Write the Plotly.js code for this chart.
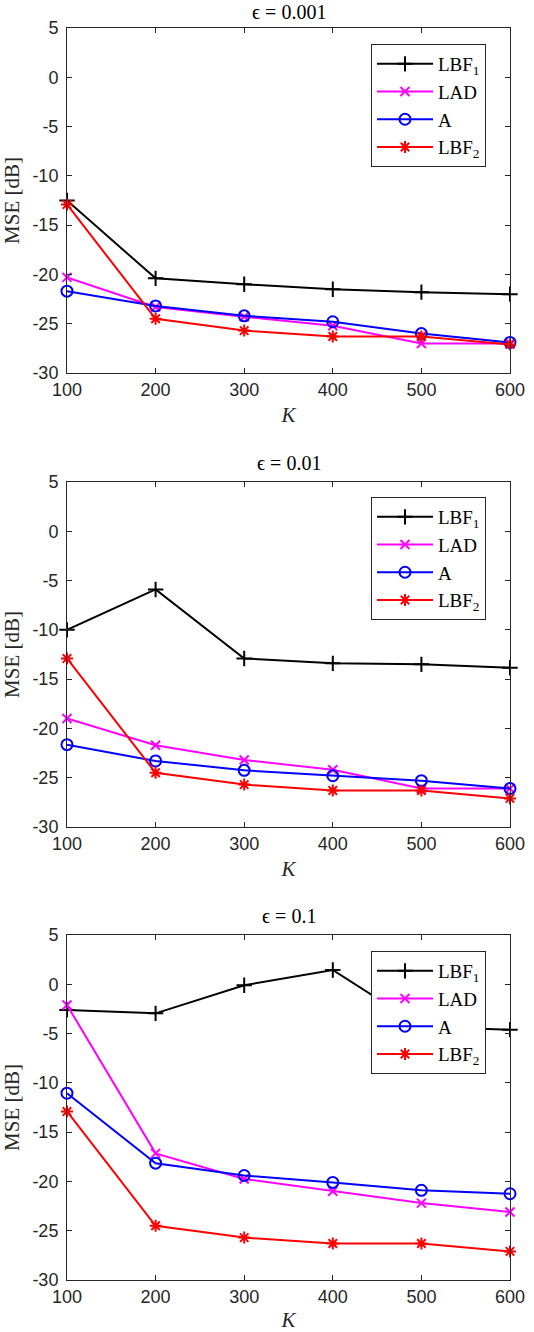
<!DOCTYPE html>
<html>
<head>
<meta charset="utf-8">
<script src="https://cdn.plot.ly/plotly-3.0.1.min.js"></script>
<style>html,body{margin:0;padding:0;background:#fff;}#chart{width:534px;height:1332px;}</style>
</head>
<body>
<div id="chart"></div>
<script>
// ---- data ----
var K = [100, 200, 300, 400, 500, 600];
var seriesNames = ['LBF<sub>1</sub>', 'LAD', 'A', 'LBF<sub>2</sub>'];
var panelTitles = ['\u03f5 = 0.001', '\u03f5 = 0.01', '\u03f5 = 0.1'];
var yTicks = [-30, -25, -20, -15, -10, -5, 0, 5];

var e1_LBF1 = [-12.5, -20.4, -21.0, -21.5, -21.8, -22.0];
var e1_LAD  = [-20.3, -23.3, -24.3, -25.2, -27.0, -27.0];
var e1_A    = [-21.7, -23.2, -24.2, -24.8, -26.0, -26.9];
var e1_LBF2 = [-12.9, -24.5, -25.7, -26.3, -26.3, -27.1];

var e2_LBF1 = [-10.0, -5.9, -12.9, -13.4, -13.5, -13.85];
var e2_LAD  = [-19.0, -21.7, -23.2, -24.2, -26.1, -26.1];
var e2_A    = [-21.65, -23.3, -24.25, -24.8, -25.3, -26.1];
var e2_LBF2 = [-12.9, -24.5, -25.7, -26.3, -26.3, -27.1];

var e3_LBF1 = [-2.6, -2.95, -0.1, 1.45, -4.3, -4.6];
var e3_LAD  = [-2.1, -17.15, -19.75, -21.0, -22.2, -23.1];
var e3_A    = [-11.05, -18.15, -19.4, -20.1, -20.9, -21.25];
var e3_LBF2 = [-12.9, -24.5, -25.7, -26.3, -26.3, -27.1];

var panels = [
  [e1_LBF1, e1_LAD, e1_A, e1_LBF2],
  [e2_LBF1, e2_LAD, e2_A, e2_LBF2],
  [e3_LBF1, e3_LAD, e3_A, e3_LBF2]
];

// ---- styles ----
var colors = ['#000000', '#ff00ff', '#0000ff', '#ff0000'];
var symbols = ['cross-thin-open', 'x-thin-open', 'circle-open', 'asterisk-open'];
var msizes = [11, 9, 11, 10];
var serif = 'Liberation Serif, DejaVu Serif, serif';
var sans = 'Liberation Sans, Arial, sans-serif';
var axColor = '#262626';

var W = 534, H = 1332;
var plotTops = [28, 482, 935];
var plotH = 345;
var titleYs = [12, 463, 916];
var legendTops = [44, 497, 951];

var traces = [];
var layout = {
  width: W, height: H,
  margin: {l: 67, r: 24, t: 0, b: 0},
  paper_bgcolor: '#ffffff', plot_bgcolor: '#ffffff',
  showlegend: true,
  annotations: []
};

for (var p = 0; p < 3; p++) {
  var sfx = p === 0 ? '' : String(p + 1);
  var legName = 'legend' + sfx;
  for (var s = 0; s < 4; s++) {
    traces.push({
      x: K, y: panels[p][s],
      xaxis: 'x' + sfx, yaxis: 'y' + sfx,
      type: 'scatter', mode: 'lines+markers',
      name: seriesNames[s],
      legend: legName,
      cliponaxis: false,
      line: {color: colors[s], width: 2},
      marker: {symbol: symbols[s], size: msizes[s], color: colors[s], line: {color: colors[s], width: 2}}
    });
  }
  var pTop = plotTops[p], pBot = plotTops[p] + plotH;
  var dom = [1 - pBot / H, 1 - pTop / H];
  layout['xaxis' + sfx] = {
    domain: [0, 1], anchor: 'y' + sfx,
    range: [100, 600], tickvals: K, ticktext: K.map(String),
    ticks: 'inside', ticklen: 5, tickwidth: 1, tickcolor: axColor,
    showline: true, linecolor: axColor, linewidth: 1, mirror: 'ticks',
    showgrid: false, zeroline: false,
    tickfont: {family: sans, size: 18, color: axColor},
    title: {text: '<i>K</i>', font: {family: serif, size: 21, color: axColor}, standoff: 8}
  };
  layout['yaxis' + sfx] = {
    domain: dom, anchor: 'x' + sfx,
    range: [-30, 5], tickvals: yTicks, ticktext: yTicks.map(String),
    ticks: 'inside', ticklen: 5, tickwidth: 1, tickcolor: axColor,
    showline: true, linecolor: axColor, linewidth: 1, mirror: 'ticks',
    showgrid: false, zeroline: false, ticklabelstandoff: 4,
    tickfont: {family: sans, size: 18, color: axColor},
    title: {text: 'MSE [dB]', font: {family: serif, size: 21, color: axColor}, standoff: 7}
  };
  layout[legName] = {
    x: (371 - 67) / (W - 91), xanchor: 'left',
    y: 1 - legendTops[p] / H, yanchor: 'top',
    bgcolor: '#ffffff', bordercolor: axColor, borderwidth: 1,
    font: {family: serif, size: 19, color: '#000000'},
    itemwidth: 56, tracegroupgap: 0
  };
  layout.annotations.push({
    text: panelTitles[p], xref: 'paper', yref: 'paper',
    x: 0.5, y: 1 - titleYs[p] / H, xanchor: 'center', yanchor: 'middle',
    showarrow: false, font: {family: serif, size: 20, color: '#000000'}
  });
}

Plotly.newPlot('chart', traces, layout, {staticPlot: true, displayModeBar: false});
</script>
</body>
</html>
